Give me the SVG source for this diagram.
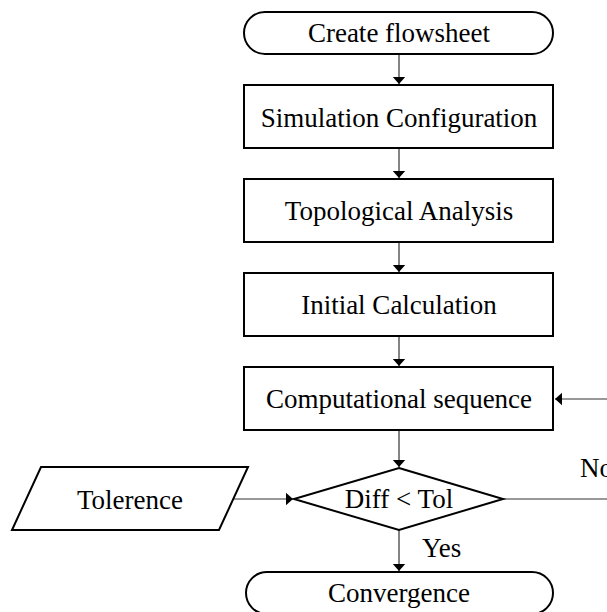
<svg xmlns="http://www.w3.org/2000/svg" width="607" height="612" viewBox="0 0 607 612">
<style>
.shape{fill:#fff;stroke:#000;stroke-width:2}
.conn{fill:none;stroke:#333;stroke-width:1.2}
text{font-family:"Liberation Serif","Times New Roman",serif;font-size:27px;fill:#000}
.c{text-anchor:middle}
</style>
<defs>
<marker id="arr" markerUnits="userSpaceOnUse" markerWidth="14" markerHeight="14" viewBox="0 0 14 14" refX="8" refY="7" orient="auto">
<path d="M1,0.8 L8,7 L1,13.2 Z" fill="#000"/>
</marker>
</defs>
<g id="connectors">
<line class="conn" x1="399" y1="54" x2="399" y2="84" marker-end="url(#arr)"/>
<line class="conn" x1="399" y1="148" x2="399" y2="178" marker-end="url(#arr)"/>
<line class="conn" x1="399" y1="242" x2="399" y2="272" marker-end="url(#arr)"/>
<line class="conn" x1="399" y1="336" x2="399" y2="366" marker-end="url(#arr)"/>
<line class="conn" x1="607" y1="399" x2="555" y2="399" marker-end="url(#arr)"/>
<line class="conn" x1="399" y1="430" x2="399" y2="467" marker-end="url(#arr)"/>
<line class="conn" x1="233" y1="499" x2="293" y2="499" marker-end="url(#arr)"/>
<line class="conn" x1="503" y1="499" x2="607" y2="499"/>
<line class="conn" x1="399" y1="530" x2="399" y2="571" marker-end="url(#arr)"/>
<text x="580" y="477">No</text>
<text x="422" y="557">Yes</text>
</g>
<g id="create">
<rect class="shape" x="244" y="12" width="309" height="42" rx="21" ry="21"/>
<text class="c" x="399" y="42">Create flowsheet</text>
</g>
<g id="simconfig">
<rect class="shape" x="244" y="85" width="309" height="63"/>
<text class="c" x="399" y="127">Simulation Configuration</text>
</g>
<g id="topo">
<rect class="shape" x="244" y="179" width="309" height="63"/>
<text class="c" x="399" y="220">Topological Analysis</text>
</g>
<g id="initcalc">
<rect class="shape" x="244" y="273" width="309" height="63"/>
<text class="c" x="399" y="314">Initial Calculation</text>
</g>
<g id="compseq">
<rect class="shape" x="244" y="367" width="309" height="63"/>
<text class="c" x="399" y="408">Computational sequence</text>
</g>
<g id="decision">
<polygon class="shape" points="399,468 503,499 399,530 294,499"/>
<text class="c" x="399" y="508">Diff &lt; Tol</text>
</g>
<g id="tolerence">
<polygon class="shape" points="41,467 248,467 219,530 12,530"/>
<text class="c" x="130" y="509">Tolerence</text>
</g>
<g id="convergence">
<rect class="shape" x="246" y="572" width="307" height="42" rx="21" ry="21"/>
<text class="c" x="399" y="602">Convergence</text>
</g>
</svg>
